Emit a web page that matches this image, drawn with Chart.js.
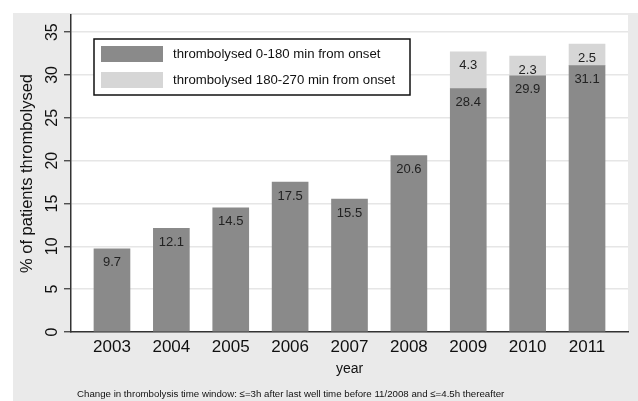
<!DOCTYPE html>
<html>
<head>
<meta charset="utf-8">
<script src="https://cdn.jsdelivr.net/npm/chart.js@4/dist/chart.umd.min.js"></script>
<style>
  html, body { margin: 0; padding: 0; background: #ffffff; }
  #wrap { width: 638px; height: 401px; }
</style>
</head>
<body>
<div id="wrap"><canvas id="c" width="638" height="401"></canvas></div>
<script>
// ---- data ----
const years = ['2003', '2004', '2005', '2006', '2007', '2008', '2009', '2010', '2011'];
const early = [9.7, 12.1, 14.5, 17.5, 15.5, 20.6, 28.4, 29.9, 31.1];
const late = [null, null, null, null, null, null, 4.3, 2.3, 2.5];
const seriesNames = ['thrombolysed 0-180 min from onset', 'thrombolysed 180-270 min from onset'];
const yTitle = '% of patients thrombolysed';
const xTitle = 'year';
const footNote = 'Change in thrombolysis time window: \u2264=3h after last well time before 11/2008 and \u2264=4.5h thereafter';

const FONT = '"Liberation Sans", Arial, sans-serif';
const DARK = '#8a8a8a';
const LIGHT = '#d6d6d6';
const PANEL = '#eaeaea';

const bgPlugin = {
  id: 'bg',
  beforeDraw(chart) {
    const { ctx, chartArea: a, width, height } = chart;
    ctx.save();
    ctx.fillStyle = '#ffffff';
    ctx.fillRect(0, 0, width, height);
    ctx.fillStyle = PANEL;
    ctx.fillRect(13, 13, width - 13, height - 13);
    ctx.fillStyle = '#ffffff';
    ctx.fillRect(a.left, a.top, a.right - a.left, a.bottom - a.top);
    ctx.restore();
  }
};

const labelPlugin = {
  id: 'vals',
  afterDatasetsDraw(chart) {
    const { ctx } = chart;
    ctx.save();
    ctx.font = '13px ' + FONT;
    ctx.fillStyle = '#222222';
    ctx.textAlign = 'center';
    ctx.textBaseline = 'middle';
    chart.data.datasets.forEach((ds, di) => {
      const meta = chart.getDatasetMeta(di);
      meta.data.forEach((bar, i) => {
        const v = ds.data[i].y;
        if (v === null || v === undefined) return;
        ctx.fillText(v.toFixed(1), bar.x, bar.y + 14);
      });
    });
    ctx.restore();
  }
};

const legendPlugin = {
  id: 'boxLegend',
  afterDraw(chart) {
    const { ctx, chartArea: a } = chart;
    const bx = a.left + 23, by = a.top + 24, bw = 316, bh = 56;
    ctx.save();
    ctx.fillStyle = '#ffffff';
    ctx.fillRect(bx, by, bw, bh);
    ctx.strokeStyle = '#111111';
    ctx.lineWidth = 1.5;
    ctx.strokeRect(bx, by, bw, bh);
    ctx.font = '13.2px ' + FONT;
    ctx.textBaseline = 'middle';
    ctx.textAlign = 'left';
    chart.data.datasets.forEach((ds, i) => {
      const sy = by + 7 + i * 26;
      ctx.fillStyle = ds.backgroundColor;
      ctx.fillRect(bx + 7, sy, 62, 16);
      ctx.fillStyle = '#111111';
      ctx.fillText(ds.label, bx + 79, sy + 8.5);
    });
    ctx.font = '9.7px ' + FONT;
    ctx.fillStyle = '#111111';
    ctx.fillText(footNote, 77, 394);
    ctx.restore();
  }
};

const toPts = arr => arr.map((v, i) => ({ x: i, y: v }));

new Chart(document.getElementById('c'), {
  type: 'bar',
  data: {
    datasets: [
      { label: seriesNames[0], data: toPts(early), backgroundColor: DARK, barThickness: 36 },
      { label: seriesNames[1], data: toPts(late), backgroundColor: LIGHT, barThickness: 36 }
    ]
  },
  options: {
    responsive: false,
    animation: false,
    devicePixelRatio: 1,
    layout: { padding: { top: 15, right: 10, left: 0, bottom: 0 } },
    plugins: {
      legend: { display: false },
      tooltip: { enabled: false }
    },
    scales: {
      x: {
        type: 'linear',
        stacked: true,
        offset: false,
        min: -0.69,
        max: 8.69,
        afterFit(s) { s.height = 69; },
        grid: { display: false, drawTicks: false, offset: false },
        border: { display: true, color: '#333333', width: 1.5 },
        ticks: {
          stepSize: 1,
          includeBounds: false,
          padding: 5,
          color: '#111111',
          font: { family: FONT, size: 17 },
          callback: v => (Number.isInteger(v) && years[v]) ? years[v] : ''
        },
        title: {
          display: true, text: xTitle, color: '#111111',
          font: { family: FONT, size: 14 },
          padding: { top: 0, bottom: 23 }
        }
      },
      y: {
        stacked: true,
        min: 0,
        max: 37,
        afterFit(s) { s.width = 71; },
        grid: { color: '#e6e6e6', lineWidth: 1.5, tickColor: '#333333', tickLength: 7, tickWidth: 1.2 },
        border: { display: true, color: '#333333', width: 1.5 },
        ticks: {
          stepSize: 5,
          includeBounds: false,
          minRotation: 90,
          maxRotation: 90,
          crossAlign: 'center',
          padding: 3,
          color: '#111111',
          font: { family: FONT, size: 16 }
        },
        title: {
          display: true, text: yTitle, color: '#111111',
          font: { family: FONT, size: 16.5 },
          padding: { top: 18, bottom: 0 }
        }
      }
    }
  },
  plugins: [bgPlugin, labelPlugin, legendPlugin]
});
</script>
</body>
</html>
